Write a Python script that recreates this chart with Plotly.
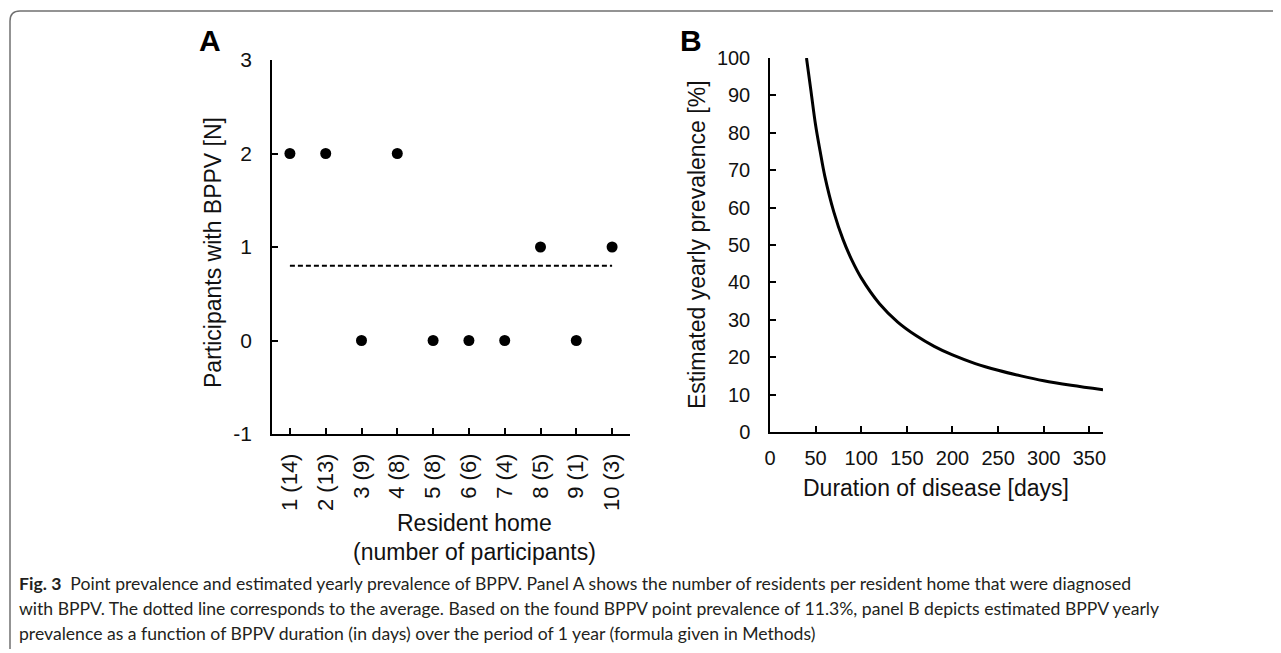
import plotly.graph_objects as go

W, H = 1281, 653
OFF = 8  # page body margin offset of the figure on screen

# Panel A data
homes = ["1 (14)", "2 (13)", "3 (9)", "4 (8)", "5 (8)", "6 (6)", "7 (4)", "8 (5)", "9 (1)", "10 (3)"]
bppv_counts = [2, 2, 0, 2, 0, 0, 0, 1, 0, 1]
avg_count = sum(bppv_counts) / len(bppv_counts)

# Panel B data
duration_days = [40, 45, 50, 55, 60, 70, 80, 90, 100, 120, 140, 160, 180, 200, 225, 250, 275, 300, 330, 365]
yearly_prev = [100, 91, 82, 75, 68.5, 58.8, 51.5, 45.8, 41.2, 34.3, 29.4, 25.8, 22.9, 20.6, 18.3, 16.5, 15.0, 13.7, 12.5, 11.3]

y_ticks_a = [-1, 0, 1, 2, 3]
y_ticks_b = list(range(0, 101, 10))
x_ticks_b = list(range(0, 351, 50))


def px(x):
    return (x - OFF) / W


def py(y):
    return 1 - (y - OFF) / H


FONT = "Liberation Sans, Arial, sans-serif"
fig = go.Figure()

fig.add_trace(go.Scatter(
    x=homes, y=bppv_counts, mode="markers",
    marker=dict(color="black", size=11),
    xaxis="x", yaxis="y", showlegend=False, hoverinfo="skip"))
fig.add_trace(go.Scatter(
    x=[homes[0], homes[-1]], y=[avg_count, avg_count], mode="lines",
    line=dict(color="black", width=2, dash="5px,3px"),
    xaxis="x", yaxis="y", showlegend=False, hoverinfo="skip"))
fig.add_trace(go.Scatter(
    x=duration_days, y=yearly_prev, mode="lines",
    line=dict(color="black", width=3, shape="spline"),
    xaxis="x2", yaxis="y2", showlegend=False, hoverinfo="skip"))


def axis_common(size):
    return dict(
        showline=True, linecolor="black", linewidth=1.5,
        ticks="inside", ticklen=6, tickwidth=1.5, tickcolor="black",
        showgrid=False, zeroline=False, automargin=False,
        tickfont=dict(family=FONT, size=size, color="#111"),
    )


fig.update_layout(
    width=W, height=H,
    margin=dict(l=0, r=0, t=0, b=0, autoexpand=False),
    paper_bgcolor="white", plot_bgcolor="white",
    showlegend=False,
    xaxis=dict(domain=[px(272), px(630)], type="category", range=[-0.5, 9.5],
               tickangle=-90, anchor="y", ticklabelstandoff=9, **axis_common(22)),
    yaxis=dict(domain=[py(434), py(60)], range=[-1, 3], tickvals=y_ticks_a,
               ticktext=[str(v) for v in y_ticks_a],
               anchor="x", ticklabelstandoff=14, **axis_common(21)),
    xaxis2=dict(domain=[px(770), px(1103)], range=[0, 365], tickvals=x_ticks_b,
                anchor="y2", ticklabelstandoff=7, **axis_common(20)),
    yaxis2=dict(domain=[py(432), py(58)], range=[0, 100], tickvals=y_ticks_b,
                anchor="x2", ticklabelstandoff=14, **axis_common(20)),
)

ann = []


def add_text(x, y, text, size=23, angle=0, xanchor="center", yanchor="middle",
             family=FONT, color="#111"):
    ann.append(dict(x=px(x), y=py(y), xref="paper", yref="paper", text=text,
                    showarrow=False, textangle=angle, xanchor=xanchor, yanchor=yanchor,
                    font=dict(family=family, size=size, color=color)))


add_text(210, 40, "<b>A</b>", size=30, color="black")
add_text(691, 40, "<b>B</b>", size=30, color="black")
add_text(213, 253, "Participants with BPPV [N]", angle=-90)
add_text(697, 245, "Estimated yearly prevalence [%]", angle=-90)
add_text(474, 523, "Resident home")
add_text(474, 552, "(number of participants)")
add_text(936, 488, "Duration of disease [days]")

CAP_FONT = "Lato, sans-serif"
cap_color = "#231f20"
add_text(17, 583, "<b>Fig. 3</b>  Point prevalence and estimated yearly prevalence of BPPV. Panel A shows the number of residents per resident home that were diagnosed",
         size=17.6, xanchor="left", family=CAP_FONT, color=cap_color)
add_text(17, 608, "with BPPV. The dotted line corresponds to the average. Based on the found BPPV point prevalence of 11.3%, panel B depicts estimated BPPV yearly",
         size=17.6, xanchor="left", family=CAP_FONT, color=cap_color)
add_text(17, 633, "prevalence as a function of BPPV duration (in days) over the period of 1 year (formula given in Methods)",
         size=17.6, xanchor="left", family=CAP_FONT, color=cap_color)

fig.update_layout(annotations=ann)

border_path = (f"M {px(10)},{py(649)} L {px(10)},{py(21)} "
               f"Q {px(10)},{py(11)} {px(20)},{py(11)} L {px(1290)},{py(11)}")
fig.add_shape(type="path", path=border_path, xref="paper", yref="paper",
              line=dict(color="#707070", width=1.5))

fig.write_html("out.html")
